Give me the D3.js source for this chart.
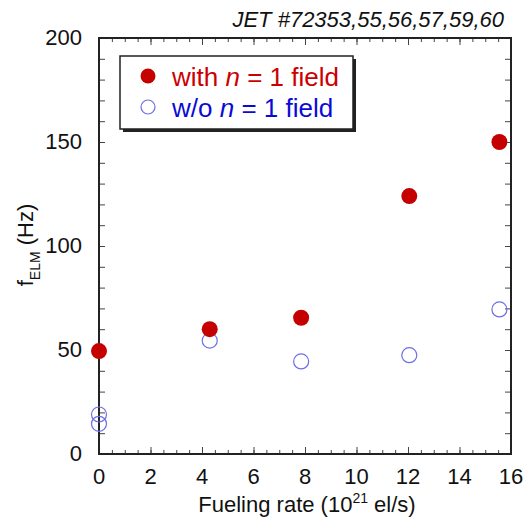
<html>
<head>
<title>fELM vs fueling</title>
<style>
  body { margin: 0; background: #fff; }
  text { font-family: "Liberation Sans", Arial, sans-serif; }
</style>
</head>
<body>
<div id="svghere"></div>
<script src="https://d3js.org/d3.v7.min.js"></script>
<script>
// data
var withX = [0, 4.3, 7.85, 12.05, 15.55];
var withY = [49.5, 60, 65.5, 124, 150];
var woX = [0, 0, 4.3, 7.85, 12.05, 15.55];
var woY = [19, 14.5, 54.5, 44.5, 47.5, 69.5];
var xTicks = [0, 2, 4, 6, 8, 10, 12, 14, 16];
var yTicks = [0, 50, 100, 150, 200];

var W = 528, H = 517;
var pL = 99, pR = 511, pT = 38, pB = 454;

var svg = d3.select("#svghere")
    .append('svg')
    .attr('width', W)
    .attr('height', H);

var x = d3.scaleLinear().domain([0, 16]).range([pL, pR]);
var y = d3.scaleLinear().domain([0, 200]).range([pB, pT]);

// minor ticks
var xMinor = d3.range(0, 16.01, 0.5);
var yMinor = d3.range(0, 200.1, 10);

function tickAxis(axis, scale, vals, size) {
    return axis(scale).tickValues(vals).tickSize(size).tickFormat('');
}

var g = svg.append('g');
g.append('g').attr('transform', 'translate(0,' + pB + ')')
    .call(tickAxis(d3.axisTop, x, xMinor, 4));
g.append('g').attr('transform', 'translate(0,' + pB + ')')
    .call(tickAxis(d3.axisTop, x, xTicks, 7));
g.append('g').attr('transform', 'translate(0,' + pT + ')')
    .call(tickAxis(d3.axisBottom, x, xMinor, 4));
g.append('g').attr('transform', 'translate(0,' + pT + ')')
    .call(tickAxis(d3.axisBottom, x, xTicks, 7));
g.append('g').attr('transform', 'translate(' + pL + ',0)')
    .call(tickAxis(d3.axisRight, y, yMinor, 6));
g.append('g').attr('transform', 'translate(' + pR + ',0)')
    .call(tickAxis(d3.axisLeft, y, yMinor, 6));
g.selectAll('.domain').remove();
g.selectAll('.tick line').attr('stroke', '#444').attr('stroke-width', 1);

svg.append('rect')
    .attr('x', pL).attr('y', pT)
    .attr('width', pR - pL).attr('height', pB - pT)
    .attr('fill', 'none').attr('stroke', '#222').attr('stroke-width', 2);

// tick labels
svg.selectAll('.xl').data(xTicks).enter().append('text')
    .attr('x', function(d) { return x(d); })
    .attr('y', 484)
    .attr('text-anchor', 'middle')
    .attr('font-size', 22)
    .attr('fill', '#111')
    .text(function(d) { return d; });

svg.selectAll('.yl').data(yTicks).enter().append('text')
    .attr('x', 82)
    .attr('y', function(d) { return y(d) + 7; })
    .attr('text-anchor', 'end')
    .attr('font-size', 22)
    .attr('fill', '#111')
    .text(function(d) { return d; });

// axis titles
var xt = svg.append('text')
    .attr('x', 307).attr('y', 512)
    .attr('text-anchor', 'middle')
    .attr('font-size', 22)
    .attr('fill', '#111');
xt.append('tspan').text('Fueling rate (10');
xt.append('tspan').attr('font-size', 14).attr('dy', -9).text('21');
xt.append('tspan').attr('dy', 9).text(' el/s)');

var yt = svg.append('text')
    .attr('transform', 'translate(33,245) rotate(-90)')
    .attr('text-anchor', 'middle')
    .attr('font-size', 22)
    .attr('fill', '#111');
yt.append('tspan').text('f');
yt.append('tspan').attr('font-size', 14).attr('dy', 7).text('ELM');
yt.append('tspan').attr('dy', -7).text(' (Hz)');

// title
svg.append('text')
    .attr('x', 504).attr('y', 27)
    .attr('text-anchor', 'end')
    .attr('font-size', 22)
    .attr('font-style', 'italic')
    .attr('fill', '#111')
    .text('JET #72353,55,56,57,59,60');

// points
svg.selectAll('.wo').data(woX).enter().append('circle')
    .attr('cx', function(d) { return x(d); })
    .attr('cy', function(d, i) { return y(woY[i]); })
    .attr('r', 7.5)
    .attr('fill', 'none')
    .style('stroke', '#6e6ee8')
    .style('stroke-width', 1.2);

svg.selectAll('.with').data(withX).enter().append('circle')
    .attr('cx', function(d) { return x(d); })
    .attr('cy', function(d, i) { return y(withY[i]); })
    .attr('r', 8)
    .attr('fill', '#c40000');

// legend
svg.append('rect')
    .attr('x', 123).attr('y', 59)
    .attr('width', 233).attr('height', 73)
    .attr('fill', '#222');
svg.append('rect')
    .attr('x', 120).attr('y', 56)
    .attr('width', 233).attr('height', 73)
    .attr('fill', '#fff').attr('stroke', '#222').attr('stroke-width', 1.5);

svg.append('circle').attr('cx', 148).attr('cy', 76).attr('r', 7.5).attr('fill', '#c40000');
svg.append('circle').attr('cx', 148).attr('cy', 107).attr('r', 7)
    .attr('fill', 'none').style('stroke', '#6e6ee8').style('stroke-width', 1.2);

function legendText(yy, pre, color) {
    var t = svg.append('text').attr('x', 172).attr('y', yy)
        .attr('font-size', 26).attr('fill', color);
    t.append('tspan').text(pre);
    t.append('tspan').attr('font-style', 'italic').text('n');
    t.append('tspan').text(' = 1 field');
}
legendText(86, 'with ', '#cc0000');
legendText(117, 'w/o ', '#0a0ad8');
</script>
</body>
</html>
